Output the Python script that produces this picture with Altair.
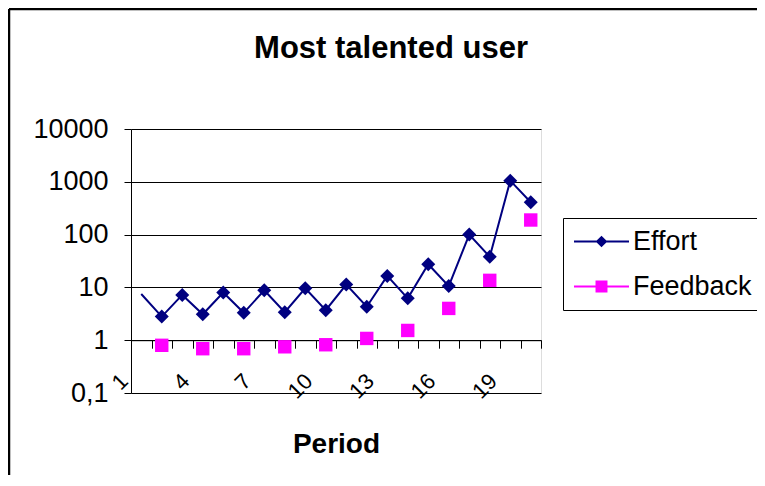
import altair as alt
import pandas as pd

# ---- data ----
periods = list(range(1, 21))
effort = [7.5, 2.8, 7.2, 3.1, 8.0, 3.3, 8.8, 3.4, 9.6, 3.7,
          11.3, 4.3, 16.5, 6.2, 27.5, 10.6, 100, 38, 1050, 410]
feedback_periods = [2, 4, 6, 8, 10, 12, 14, 16, 18, 20]
feedback = [0.80, 0.69, 0.69, 0.75, 0.82, 1.08, 1.53, 4.0, 13.6, 189]
series_names = ["Effort", "Feedback"]
series_colors = ["#000080", "#FF00FF"]
y_ticks = [0.1, 1, 10, 100, 1000, 10000]
x_boundaries = [0.5 + i for i in range(21)]

df = pd.concat([
    pd.DataFrame({"period": periods, "series": "Effort", "value": effort}),
    pd.DataFrame({"period": feedback_periods, "series": "Feedback", "value": feedback}),
], ignore_index=True)

FONT = "Liberation Sans"
W, H = 410, 264
PAD = {"left": 123, "top": 121, "right": 216, "bottom": 82}

x_enc = alt.X(
    "period:Q",
    scale=alt.Scale(domain=[0.5, 20.5], nice=False, zero=False),
    axis=alt.Axis(
        values=x_boundaries,
        labelExpr="((datum.value + 0.5 - 1) % 3 == 0) ? format(datum.value + 0.5, 'd') : ''",
        labelAngle=-45, labelAlign="right", labelBaseline="middle",
        labelFontSize=22, labelFont=FONT, labelColor="black",
        labelPadding=29, labelOffset=-7, labelFlush=False, labelOverlap=False,
        tickSize=8, tickColor="black", domainColor="black",
        offset=-H / 5, grid=False,
        title="Period", titleFontSize=28, titleFontWeight="bold", titleFont=FONT,
        titleColor="black", titleY=112, titleBaseline="alphabetic",
    ),
)
y_enc = alt.Y(
    "value:Q",
    scale=alt.Scale(type="log", domain=[0.1, 10000], nice=False),
    axis=alt.Axis(
        values=y_ticks,
        labelExpr="datum.value < 1 ? '0,1' : format(datum.value, 'd')",
        labelFontSize=27, labelFont=FONT, labelColor="black", labelPadding=16,
        labelFlush=False, labelOverlap=False,
        tickSize=7, tickColor="black", domainColor="black",
        gridColor="black", gridOpacity=1, title=None,
    ),
)

base = alt.Chart(df)

effort_line = base.transform_filter("datum.series == 'Effort'").mark_line(
    color="#000080", strokeWidth=2
).encode(x=x_enc, y=y_enc)

effort_pts = base.transform_filter("datum.series == 'Effort' && datum.period > 1").mark_point(
    shape="diamond", filled=True, size=196, color="#000080", opacity=1
).encode(x=x_enc, y=y_enc)

feedback_pts = base.transform_filter("datum.series == 'Feedback'").mark_point(
    shape="square", filled=True, size=180, color="#FF00FF", opacity=1
).encode(x=x_enc, y=y_enc)

# legend symbols: a short line with the series marker (unit = 13 px)
diamond_path = "M-2.115,-0.077L2.115,-0.077L2.115,0.077L-2.115,0.077Z M0,-0.45L0.45,0L0,0.45L-0.45,0Z"
square_path = "M-2.115,-0.077L2.115,-0.077L2.115,0.077L-2.115,0.077Z M-0.46,-0.46L0.46,-0.46L0.46,0.46L-0.46,0.46Z"

leg = alt.Legend(
    orient="none", legendX=432, legendY=89, title=None,
    labelFontSize=27, labelFont=FONT, labelColor="black",
    symbolSize=676, symbolStrokeWidth=0, symbolOpacity=1, symbolOffset=15,
    strokeColor="black", fillColor="white", padding=10, rowPadding=17, labelOffset=18,
)

legend_layer = base.transform_filter("false").mark_point(filled=True, opacity=1).encode(
    x=x_enc, y=y_enc,
    color=alt.Color("series:N", scale=alt.Scale(domain=series_names, range=series_colors), legend=leg),
    shape=alt.Shape("series:N", scale=alt.Scale(domain=series_names, range=[diamond_path, square_path]), legend=leg),
)

frame_df = pd.DataFrame({"k": [0]})
frame_v = alt.Chart(frame_df).mark_rule(color="black", strokeWidth=2.5).encode(
    x=alt.value(-PAD["left"] + 1), y=alt.value(-PAD["top"] + 1), y2=alt.value(H + PAD["bottom"])
)
frame_h = alt.Chart(frame_df).mark_rule(color="black", strokeWidth=2.5).encode(
    x=alt.value(-PAD["left"] + 1), x2=alt.value(W + PAD["right"]), y=alt.value(-PAD["top"] + 1)
)

chart = alt.layer(
    frame_v, frame_h, effort_line, effort_pts, feedback_pts, legend_layer
).properties(
    width=W, height=H,
    autosize=alt.AutoSizeParams(type="none"),
    padding=PAD,
    title=alt.Title("Most talented user", fontSize=31, fontWeight="bold", font=FONT,
                    color="black", anchor="middle", dx=55, offset=-81, baseline="alphabetic"),
).configure_view(stroke="#808080", strokeWidth=1).configure(background="white")

chart.save("out.html", embed_options={"renderer": "svg", "actions": False})
